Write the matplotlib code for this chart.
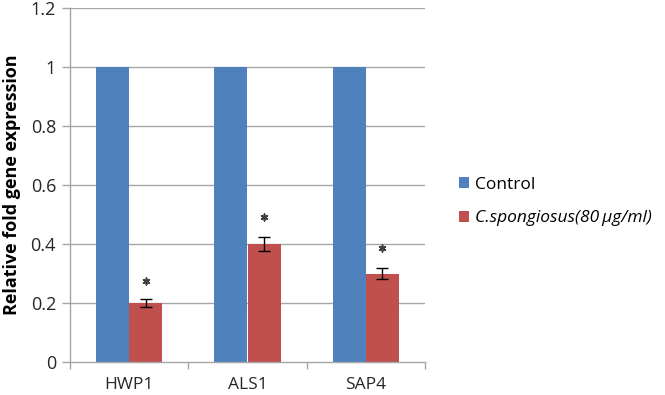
import matplotlib
matplotlib.use("Agg")
import matplotlib.pyplot as plt
import numpy as np

categories = ["HWP1", "ALS1", "SAP4"]
control = [1.0, 1.0, 1.0]
treated = [0.20, 0.40, 0.30]
treated_err = [0.015, 0.025, 0.02]
star_y = [0.275, 0.49, 0.385]
yticks = [0, 0.2, 0.4, 0.6, 0.8, 1.0, 1.2]
ytick_labels = ["0", "0.2", "0.4", "0.6", "0.8", "1", "1.2"]
legend_labels = ["Control", "C.spongiosus(80\u2009\u00b5g/ml)"]

plt.rcParams['font.family'] = ['Open Sans', 'DejaVu Sans']

fig = plt.figure(figsize=(6.65, 3.95), dpi=100)
ax = fig.add_axes([70/665, 33/395, 355/665, 354/395])

x = np.arange(len(categories))
w = 0.28
grid_c = "#a6a6a6"
ax.set_axisbelow(True)
for yv in yticks[1:]:
    ax.axhline(yv, color=grid_c, lw=1.0, zorder=0)

b1 = ax.bar(x - w/2, control, w, color="#4F81BD", label=legend_labels[0], zorder=2)
b2 = ax.bar(x + w/2, treated, w, color="#C0504D", label=legend_labels[1], zorder=2)
ax.errorbar(x + w/2, treated, yerr=treated_err, fmt="none", ecolor="black",
            elinewidth=1, capsize=4, capthick=1, zorder=3)
ax.scatter(x + w/2, star_y, marker=(6, 2, 0), s=22, color="#404040", lw=1.2, zorder=3)

ax.set_xlim(-0.5, 2.5)
ax.set_ylim(0, 1.2)
ax.set_yticks(yticks)
ax.set_yticklabels(ytick_labels, fontsize=13)
ax.set_xticks(x)
ax.set_xticklabels(categories, fontsize=12.5)
ax.set_xticks([-0.5, 0.5, 1.5, 2.5], minor=True)
ax.tick_params(axis="x", which="major", length=0, pad=11)
ax.tick_params(axis="x", which="minor", length=5, color=grid_c, width=1)
ax.tick_params(axis="y", length=6, color=grid_c, width=1, pad=4, labelcolor="#262626")
ax.tick_params(axis="x", labelcolor="#262626")
for s in ["top", "right"]:
    ax.spines[s].set_visible(False)
for s in ["left", "bottom"]:
    ax.spines[s].set_color(grid_c)
    ax.spines[s].set_linewidth(1.0)

ax.set_ylabel("Relative fold gene expression", fontsize=13, fontweight="bold", labelpad=7)

leg = fig.legend(handles=[b1, b2], loc="upper left", bbox_to_anchor=(452/665, 1 - 170/395),
                 frameon=False, fontsize=12.5, handlelength=0.6, handleheight=0.6,
                 handletextpad=0.35, labelspacing=1.0, borderaxespad=0)
leg.get_texts()[1].set_fontstyle("italic")

fig.savefig("out.png", dpi=100)
